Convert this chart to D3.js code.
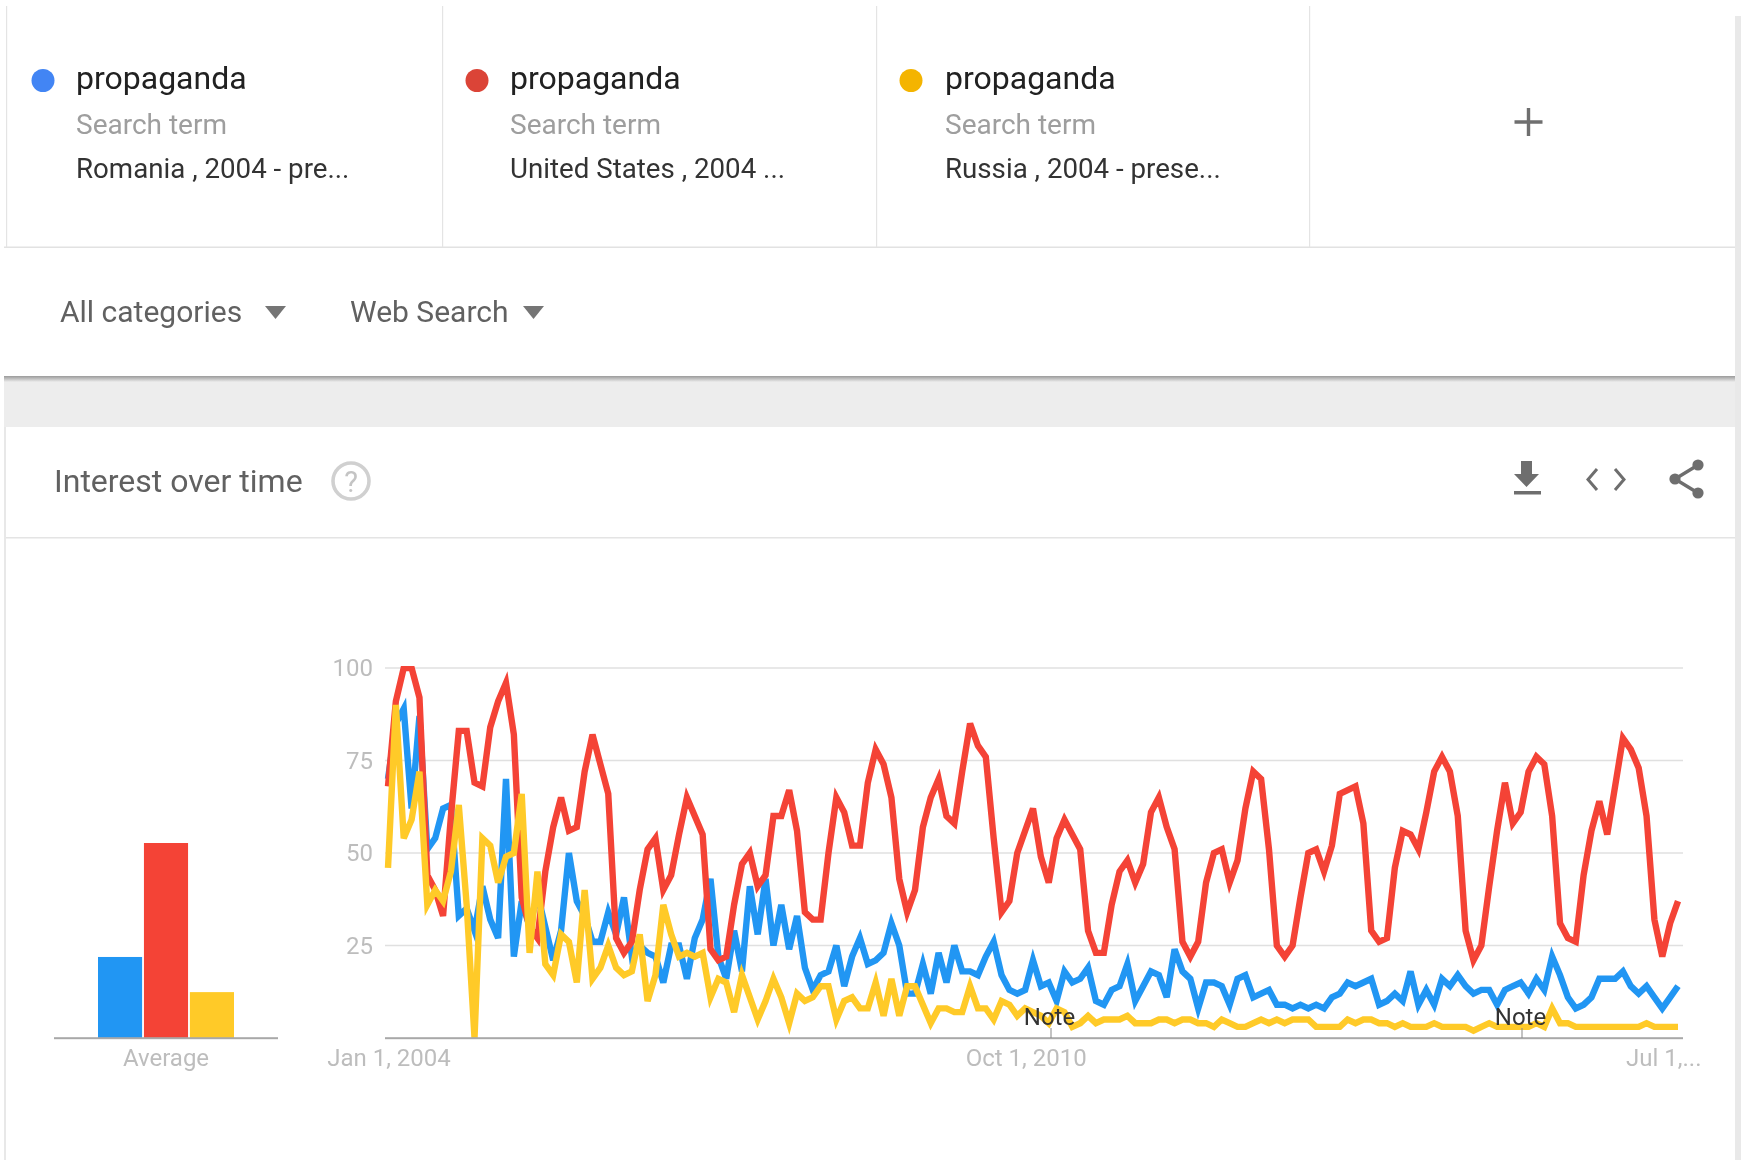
<!DOCTYPE html>
<html><head><meta charset="utf-8">
<script src="https://cdn.jsdelivr.net/npm/d3@7"></script>
<style>html,body{margin:0;padding:0;background:#fff}svg{display:block;filter:blur(0.55px)}text{font-family:Roboto,sans-serif}</style>
</head><body><div id="c"></div>
<script>
const terms=["propaganda","propaganda","propaganda"];
const subtitles=["Search term","Search term","Search term"];
const scopes=["Romania , 2004 - pre...","United States , 2004 ...","Russia , 2004 - prese..."];
const dotColors=["#4285f4","#db4437","#f4b400"];
const lineColors=["#2196f3","#f44336","#ffca28"];
const yTicks=[25,50,75,100];
const xLabels=["Jan 1, 2004","Oct 1, 2010","Jul 1,..."];
const xLabelMonths=[0,81,162];
const averages=[21.9,52.7,12.4];
const romania=[70,85,89,62,87,51,54,62,63,33,35,29,41,32,27,70,22,37,30,39,30,21,29,50,37,33,26,26,34,28,38,22,25,23,22,15,25,25,16,27,32,43,22,16,29,18,41,28,43,25,36,24,33,19,13,17,18,25,14,22,27,20,21,23,31,25,12,12,20,12,23,15,25,18,18,17,22,26,17,13,12,13,21,14,15,10,18,15,16,19,10,9,13,14,20,10,14,18,17,11,24,18,16,8,15,15,14,9,16,17,11,12,13,9,9,8,9,8,9,8,11,12,15,14,15,16,9,10,12,10,18,9,13,9,16,14,17,14,12,13,13,9,13,14,15,12,16,13,22,17,11,8,9,11,16,16,16,18,14,12,14,11,8,11,14];
const unitedStates=[68,91,100,100,92,44,40,33,60,83,83,69,68,84,91,96,82,38,30,27,45,57,65,56,57,72,82,74,66,27,23,26,40,51,54,40,44,55,65,60,55,24,21,22,36,47,50,41,44,60,60,67,56,34,32,32,50,65,61,52,52,69,78,74,65,43,34,40,57,65,70,60,58,72,85,79,76,54,34,37,50,56,62,49,42,54,59,55,51,29,23,23,36,45,48,42,47,61,65,57,51,26,22,26,42,50,51,42,48,62,72,70,51,25,22,25,38,50,51,45,52,66,67,68,58,29,26,27,46,56,55,51,61,72,76,72,60,29,21,25,41,56,69,58,61,72,76,74,60,31,27,26,44,56,64,55,68,81,78,73,60,32,22,31,37];
const russia=[46,90,54,59,72,36,40,37,45,63,36,0,54,52,42,49,50,66,23,45,20,17,28,26,15,40,16,19,25,19,17,18,28,10,17,36,28,22,23,22,23,11,16,15,7,17,11,5,10,16,11,4,12,10,11,14,14,5,10,11,8,8,15,6,16,6,14,14,9,4,8,8,7,7,14,8,8,5,10,9,6,8,7,6,4,8,7,3,4,6,4,5,5,5,6,4,4,4,5,5,4,5,5,4,4,3,5,4,3,3,4,5,4,5,4,5,5,5,3,3,3,3,5,4,5,5,4,4,3,4,3,3,3,4,3,3,3,3,2,3,4,3,3,3,3,3,4,3,8,4,4,3,3,3,3,3,3,3,3,3,4,3,3,3,3];
const seriesList=[romania,unitedStates,russia];

const W=1741,H=1160;
const svg=d3.select("#c").append("svg").attr("width",W).attr("height",H);
const rect=(x,y,w,h,f)=>svg.append("rect").attr("x",x).attr("y",y).attr("width",w).attr("height",h).attr("fill",f);
const text=(x,y,s,size,fill,anchor)=>svg.append("text").attr("x",x).attr("y",y).text(s).attr("font-size",size).attr("fill",fill).attr("text-anchor",anchor||"start");

// page chrome
rect(1735,16,6,H-16,"#e9e9e9");
const defs=svg.append("defs");
const grad=defs.append("linearGradient").attr("id","sh").attr("x1",0).attr("x2",0).attr("y1",0).attr("y2",1);
grad.append("stop").attr("offset",0).attr("stop-color","#9a9a9a");
grad.append("stop").attr("offset",1).attr("stop-color","#ececec");
rect(4,376,1731,6,"url(#sh)");
rect(4,382,1731,45,"#ededed");
rect(4,537,1731,1.5,"#e4e4e4");
rect(4,427,2,H-427,"#e8e8e8");
rect(4,246.5,1731,1.5,"#e2e2e2");
[6,442,876,1309].forEach(x=>rect(x,6,1.2,241,"#e4e4e4"));

// legend cards
const cardX=[76,510,945];
const dotX=[43,477,911];
terms.forEach((t,i)=>{
  svg.append("circle").attr("cx",dotX[i]).attr("cy",80.5).attr("r",11.5).attr("fill",dotColors[i]);
  text(cardX[i],89,t,32,"#212121");
  text(cardX[i],134,subtitles[i],28,"#9e9e9e");
  text(cardX[i],178,scopes[i],27.7,"#333");
});
svg.append("path").attr("d","M1514.5 122h28M1528.5 108v28").attr("stroke","#6f6f6f").attr("stroke-width",3.4).attr("fill","none");

// filters
text(60,322,"All categories",30,"#616161");
svg.append("path").attr("d","M265 306h21l-10.5 13z").attr("fill","#757575");
text(350,322,"Web Search",30,"#616161");
svg.append("path").attr("d","M523 306h21l-10.5 13z").attr("fill","#757575");

// header
text(54,492,"Interest over time",32,"#616161");
svg.append("circle").attr("cx",351).attr("cy",481).attr("r",18).attr("fill","none").attr("stroke","#d0d0d0").attr("stroke-width",3.6);
text(351,492,"?",29,"#c4c4c4","middle");
svg.append("path").attr("d","M1521 461h11v13h7l-12.5 13l-12.5-13h7z").attr("fill","#6e6e6e");
rect(1514,491,27,3.5,"#6e6e6e");
svg.append("path").attr("d","M1597 469l-9 10.5l9 10.5M1615 469l9 10.5l-9 10.5").attr("stroke","#6e6e6e").attr("stroke-width",3).attr("fill","none");
svg.append("path").attr("d","M1698 465L1675 479L1698 493").attr("stroke","#6e6e6e").attr("stroke-width",3.4).attr("fill","none");
[[1698,465],[1675,479],[1698,493]].forEach(p=>svg.append("circle").attr("cx",p[0]).attr("cy",p[1]).attr("r",5.6).attr("fill","#6e6e6e"));

// scales
const y=d3.scaleLinear().domain([0,100]).range([1038,668]);
const x=d3.scaleLinear().domain([0,164]).range([388,1678]);
const xBar=d3.scaleBand().domain(d3.range(averages.length)).range([98,234]).paddingInner(0.04);

// grid
const gridG=svg.append("g");
gridG.selectAll("line").data(yTicks).join("line").attr("x1",385).attr("x2",1683)
  .attr("y1",d=>y(d)).attr("y2",d=>y(d)).attr("stroke","#e0e0e0").attr("stroke-width",1.5);
svg.append("g").selectAll("text").data(yTicks).join("text").attr("x",373).attr("y",d=>y(d)+8)
  .attr("text-anchor","end").attr("font-size",24).attr("fill","#bdbdbd").text(d=>d);

// average bars
svg.append("g").selectAll("rect").data(averages).join("rect")
  .attr("x",(d,i)=>xBar(i)).attr("width",xBar.bandwidth()).attr("y",d=>y(d)).attr("height",d=>y(0)-y(d)).attr("fill",(d,i)=>lineColors[i]);

// lines, clipped to the plot as in the reference
defs.append("clipPath").attr("id","plot").append("rect").attr("x",380).attr("y",y(100)-2).attr("width",1305).attr("height",y(0)-y(100)+2);
const line=d3.line().x((d,i)=>x(i)).y(d=>y(d));
svg.append("g").attr("clip-path","url(#plot)").selectAll("path").data(seriesList).join("path").attr("d",line).attr("fill","none")
  .attr("stroke",(d,i)=>lineColors[i]).attr("stroke-width",6.4).attr("stroke-linejoin","miter");

rect(54,1037.2,224,2,"#a8a8a8");
rect(385,1037.2,1298,2,"#a8a8a8");
text(166,1066,"Average",24,"#bdbdbd","middle");

// x labels
xLabels.forEach((s,i)=>{
  if(i<2) text(x(xLabelMonths[i])+1,1066,s,24,"#bdbdbd","middle");
  else text(1626,1066,s,24,"#bdbdbd");
});
// notes
const noteX=[1051,1522];
noteX.forEach(nx=>{
  rect(nx-0.5,1028,1,10,"#888");
  text(nx-1.5,1025,"Note",24,"#333","middle");
});
</script></body></html>
